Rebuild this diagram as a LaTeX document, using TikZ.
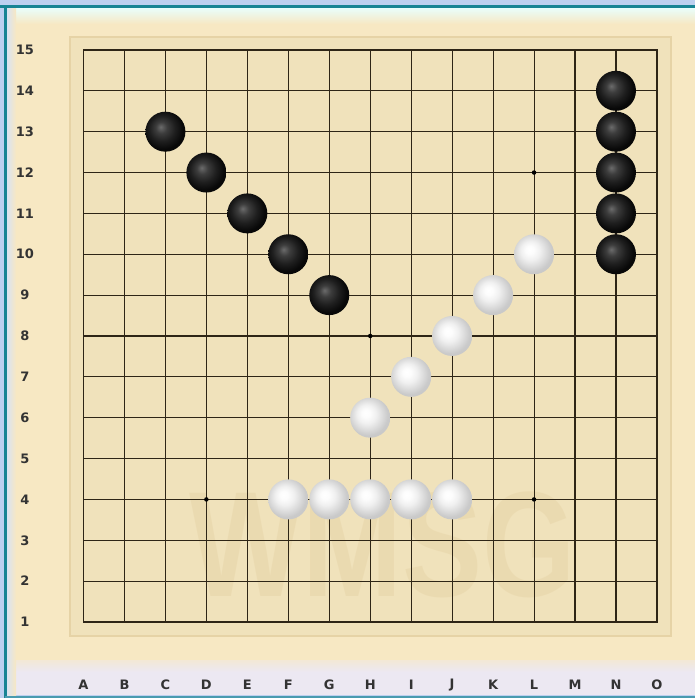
\documentclass[tikz,border=0pt]{standalone}
\usepackage{fontspec}
\setmainfont{Liberation Sans}
\newfontfamily\labfont{DejaVu Sans}
\pgfdeclareradialshading{wball}{\pgfpoint{-6bp}{6bp}}{color(0bp)=(white);color(5bp)=(white!98!gray);color(12bp)=(white!88!gray);color(19bp)=(white!72!gray);color(25bp)=(white!58!gray);color(50bp)=(white!58!gray)}
\pgfdeclareradialshading{bball}{\pgfpoint{-6bp}{6bp}}{color(0bp)=(black!58);color(7bp)=(black!76);color(16bp)=(black!88);color(25bp)=(black!97);color(50bp)=(black!97)}
\begin{document}
\begin{tikzpicture}[x=1pt,y=-1pt,
  bstone/.style={circle,minimum size=40pt,inner sep=0pt,shading=bball},
  wstone/.style={circle,minimum size=40pt,inner sep=0pt,shading=wball},
  starpt/.style={circle,fill=black,minimum size=4.5pt,inner sep=0pt},
  gridline/.style={draw=gridcol,line width=1.1pt},
  lab/.style={font=\labfont\bfseries\fontsize{13}{13}\selectfont,text=black!80}]
\definecolor{skyband}{HTML}{BDD0F0}
\definecolor{tealline}{HTML}{178494}
\definecolor{wood}{HTML}{F7E8C3}
\definecolor{woodin}{HTML}{F0E2BB}
\definecolor{woodedge}{HTML}{E6D3A6}
\definecolor{gridcol}{HTML}{2E2516}
\definecolor{lavender}{HTML}{ECE8F2}
\useasboundingbox (0,0) rectangle (695,698);
% frame
\fill[skyband] (0,0) rectangle (695,698);
\fill[wood] (6,7) rectangle (695,666);
\shade[top color=wood!60!lavender, bottom color=lavender] (6,660) rectangle (695,672);
\fill[lavender] (6,672) rectangle (695,695);
\shade[top color=white!70!cyan!30, bottom color=wood] (6,7) rectangle (695,24);
\shade[left color=skyband!60!white, right color=wood] (6,7) rectangle (16,695);
\draw[tealline,line width=3pt] (0,6.5) -- (695,6.5);
\draw[tealline,line width=3pt] (5,6) -- (5,698);
\draw[tealline!70!skyband,line width=2pt] (5,696.5) -- (695,696.5);
% inner board
\fill[woodin] (70,37) rectangle (671,636);
\draw[woodedge,line width=1.2pt] (70,37) rectangle (671,636);
% watermark
\node[font=\fontsize{150}{150}\selectfont\bfseries,text=woodedge,opacity=0.5,xscale=0.8] (wm) at (383,545) {WMSG};
\begin{scope}[shift={(83.5,622)},x=40.96pt,y=40.86pt]
  \foreach \i in {0,...,14} {
    \draw[gridline] (\i,0) -- (\i,14);
    \draw[gridline] (0,\i) -- (14,\i);
  }
  \draw[gridcol,line width=1.4pt] (0,0) rectangle (14,14);
  % star points
  \node[starpt] (sD4) at (3,3) {};
  \node[starpt] (sL4) at (11,3) {};
  \node[starpt] (sH8) at (7,7) {};
  \node[starpt] (sL12) at (11,11) {};
  \node[starpt] (sD12) at (3,11) {};
  % row labels
  \foreach \r in {1,...,15} {
    \node[lab] (row\r) at (-1.43,\r-1) {\r};
  }
  \foreach \c [count=\i from 0] in {A,B,C,D,E,F,G,H,I,J,K,L,M,N,O} {
    \node[lab] (col\c) at (\i,-1.54) {\c};
  }
  % black stones
  \node[bstone] (C13) at (2,12) {};
  \node[bstone] (D12) at (3,11) {};
  \node[bstone] (E11) at (4,10) {};
  \node[bstone] (F10) at (5,9) {};
  \node[bstone] (G9) at (6,8) {};
  \node[bstone] (N14) at (13,13) {};
  \node[bstone] (N13) at (13,12) {};
  \node[bstone] (N12) at (13,11) {};
  \node[bstone] (N11) at (13,10) {};
  \node[bstone] (N10) at (13,9) {};
  % white stones
  \node[wstone] (L10) at (11,9) {};
  \node[wstone] (K9) at (10,8) {};
  \node[wstone] (J8) at (9,7) {};
  \node[wstone] (I7) at (8,6) {};
  \node[wstone] (H6) at (7,5) {};
  \node[wstone] (F4) at (5,3) {};
  \node[wstone] (G4) at (6,3) {};
  \node[wstone] (H4) at (7,3) {};
  \node[wstone] (I4) at (8,3) {};
  \node[wstone] (J4) at (9,3) {};
\end{scope}
\end{tikzpicture}
\end{document}
